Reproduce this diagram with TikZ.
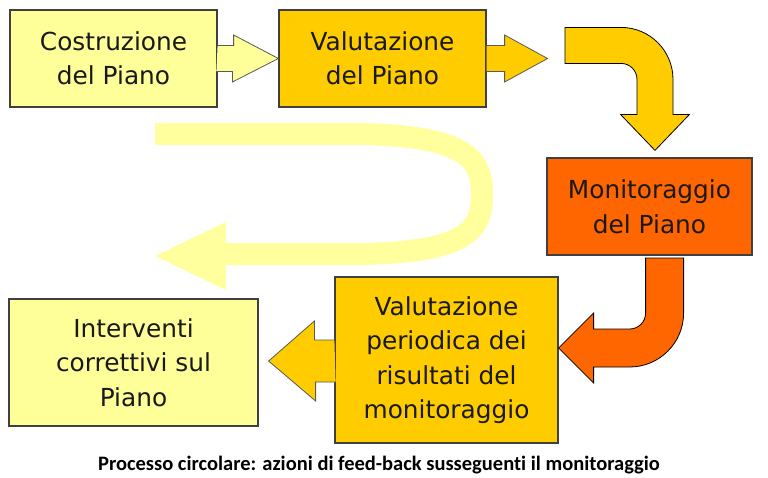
\documentclass[tikz,border=0pt]{standalone}
\usepackage{fontspec}
\setmainfont{DejaVu Sans}
\newfontfamily\captionfont[Ligatures=NoCommon]{Carlito}
\usepackage{xcolor}
\usepackage{tikz}
\usetikzlibrary{positioning}

\definecolor{paleyellow}{HTML}{FFFF99}
\definecolor{loopyellow}{HTML}{FFFF9E}
\definecolor{gold}{HTML}{FFCC00}
\definecolor{monorange}{HTML}{FF6600}

\begin{document}
\begin{tikzpicture}[x=1pt, y=-1pt]
    % Styles
    \tikzstyle{stage} = [rectangle, draw=black!75, line width=1.2pt, align=center, inner sep=0pt, text=black!90, font=\fontsize{24.8}{34.5}\selectfont]
    \tikzstyle{blockarrow} = [draw=black!65, line width=0.8pt, line join=miter]
    \tikzstyle{bentarrow} = [draw=black, line width=0.8pt, line join=miter]

    \useasboundingbox (0,0) rectangle (768,477);

    % Feed-back loop
    \draw[loopyellow, line width=22pt] (155,134) -- (360,134)
        .. controls (468,136) and (482,160) .. (482,194)
        .. controls (482,230) and (468,252) .. (360,254) -- (224,254);
    \fill[loopyellow] (226,222) -- (155,256) -- (226,290) -- cycle;

    % Nodes
    \node (costruzione) [stage, fill=paleyellow, minimum width=207pt, minimum height=97pt] at (113.5,58.5) {Costruzione\\del Piano};
    \node (valutazione) [stage, fill=gold, minimum width=207pt, minimum height=97pt] at (382.5,58.5) {Valutazione\\del Piano};
    \node (monitoraggio) [stage, fill=monorange, minimum width=205pt, minimum height=97pt] at (649.5,206.5) {Monitoraggio\\del Piano};
    \node (periodica) [stage, fill=gold, minimum width=223pt, minimum height=166pt] at (446.5,360) {Valutazione\\periodica dei\\risultati del\\monitoraggio};
    \node (interventi) [stage, fill=paleyellow, minimum width=249pt, minimum height=127pt] at (133.5,362.5) {Interventi\\correttivi sul\\Piano};

    \node (caption) at (379,465) {\captionfont\bfseries\fontsize{20.5}{24}\selectfont Processo circolare: azioni di feed-back susseguenti il monitoraggio};

    % Arrows
    \filldraw[blockarrow, fill=paleyellow] (costruzione.east) ++(0,-13) -- ++(16,0) -- ++(0,-10.5)
        -- (valutazione.west) -- ++(-46,23.5) -- ++(0,-10.5) -- ++(-16,0);
    \filldraw[blockarrow, fill=gold] (valutazione.east) ++(0,-13) -- ++(18,0) -- ++(0,-10.5)
        -- ++(43,23.5) coordinate (turn) -- ++(-43,23.5) -- ++(0,-10.5) -- ++(-18,0);
    \filldraw[bentarrow, fill=gold] (monitoraggio.north) ++(5.5,-7) -- ++(34.5,-36) -- ++(-16.5,0) -- ++(0,-35)
        arc[start angle=0, end angle=-90, radius=52] -- ++(-56,0) -- ++(0,36) -- ++(56,0)
        arc[start angle=-90, end angle=0, radius=16] -- ++(0,35) -- ++(-16.5,0) -- cycle;
    \filldraw[bentarrow, fill=monorange] (periodica.east) ++(0,-12) -- ++(35,-35) -- ++(0,16) -- ++(36,0)
        arc[start angle=90, end angle=0, radius=16] -- ++(0,-55) -- ++(38,0) -- ++(0,55)
        arc[start angle=0, end angle=90, radius=54] -- ++(-36,0) -- ++(0,16) -- cycle;
    \filldraw[blockarrow, fill=gold] (periodica.west) ++(0,-20) -- ++(-20,0) -- ++(0,-19)
        -- ([xshift=10pt,yshift=1.5pt]interventi.east) -- ++(47,40) -- ++(0,-19) -- ++(20,0);
\end{tikzpicture}
\end{document}
